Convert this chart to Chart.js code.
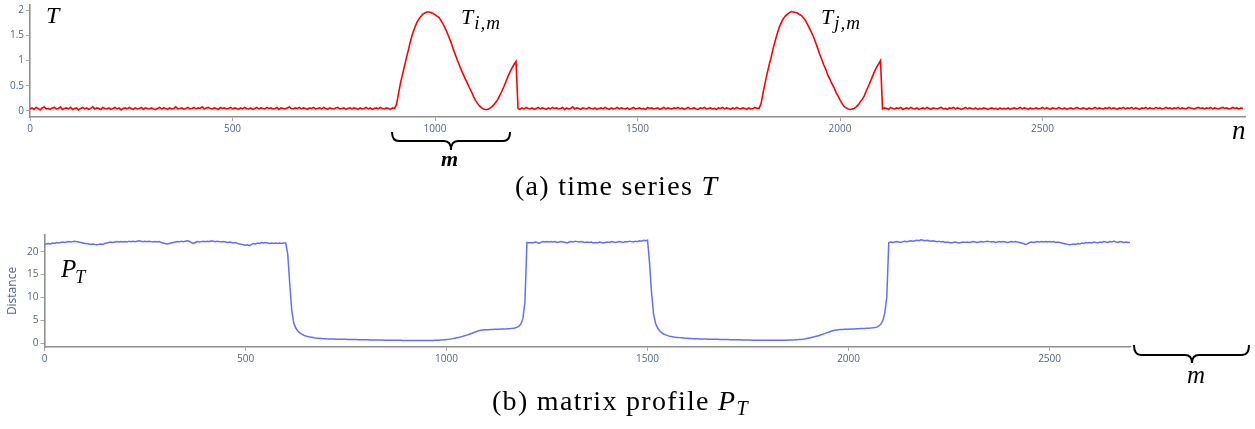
<!DOCTYPE html>
<html><head><meta charset="utf-8">
<script src="https://cdn.jsdelivr.net/npm/chart.js@4.4.1/dist/chart.umd.min.js"></script>
<style>
html,body{margin:0;padding:0;background:#fff;}
#wrap{position:relative;width:1255px;height:429px;overflow:hidden;background:#fff;}
canvas{position:absolute;left:0;}
.lbl{position:absolute;font-family:'Liberation Serif',serif;font-style:italic;color:#000;line-height:1;white-space:nowrap;z-index:3;}
.cap{position:absolute;font-family:'Liberation Serif',serif;font-size:28px;letter-spacing:1.3px;color:#000;line-height:1;white-space:nowrap;z-index:3;}
svg{position:absolute;left:0;top:0;z-index:2;}
</style></head>
<body><div id="wrap">
<canvas id="c1" width="1255" height="165" style="top:-15px"></canvas>
<canvas id="c2" width="1255" height="170" style="top:210px"></canvas>
<svg width="1255" height="429">
  <path d="M392,132 Q392,141 399,141 L444,141 Q451,141 451,150 Q451,141 458,141 L503,141 Q510,141 510,132" fill="none" stroke="#000" stroke-width="2"/>
  <path d="M1134,345 Q1134,355 1141,355 L1185,355 Q1192,355 1192,363 Q1192,355 1199,355 L1242,355 Q1249,355 1249,345" fill="none" stroke="#000" stroke-width="2"/>
</svg>
<div class="lbl" style="left:46px;top:3px;font-size:24px">T</div>
<div class="lbl" style="left:461px;top:6px;font-size:22px">T<span style="font-size:19px;position:relative;top:5px;left:1px;letter-spacing:1px">i,m</span></div>
<div class="lbl" style="left:821px;top:6px;font-size:22px">T<span style="font-size:19px;position:relative;top:5px;left:1px;letter-spacing:1px">j,m</span></div>
<div class="lbl" style="left:1232px;top:117px;font-size:27px">n</div>
<div class="lbl" style="left:441px;top:148px;font-size:22px;font-weight:bold">m</div>
<div class="lbl" style="left:61px;top:256px;font-size:25px">P<span style="font-size:18px;position:relative;top:6px;left:-1px">T</span></div>
<div class="lbl" style="left:1187px;top:362px;font-size:25px">m</div>
<div class="cap" style="left:515px;top:172px">(a) time series <i>T</i></div>
<div class="cap" style="left:492px;top:387px">(b) matrix profile <i>P</i><i style="font-size:20px;position:relative;top:5px">T</i></div>
</div>
<script>
// values, one every SAMPLE_STEP samples
const SAMPLE_STEP = 5;

// time series T : baseline 0..895
const tBase1 = [
.04,.06,.03,.07,.05,.02,.06,.08,.04,.05,.03,.06,.07,.04,.05,.08,.03,.05,.06,.04,
.07,.03,.05,.06,.02,.05,.07,.04,.06,.03,.05,.08,.04,.06,.05,.03,.07,.05,.04,.06,
.03,.05,.07,.04,.06,.02,.05,.06,.04,.07,.05,.03,.06,.04,.05,.07,.03,.06,.05,.04,
.06,.04,.03,.05,.07,.04,.06,.05,.03,.06,.04,.05,.08,.04,.05,.06,.03,.05,.07,.04,
.05,.07,.04,.06,.05,.08,.04,.06,.07,.05,.04,.06,.05,.03,.07,.05,.06,.04,.05,.07,
.04,.06,.05,.03,.06,.04,.07,.05,.04,.06,.03,.05,.07,.04,.06,.05,.04,.07,.05,.06,
.04,.05,.07,.03,.06,.05,.04,.06,.08,.05,.04,.06,.05,.07,.04,.06,.05,.03,.06,.05,
.07,.04,.05,.06,.04,.07,.05,.03,.06,.05,.04,.06,.07,.04,.05,.06,.03,.05,.06,.04,
.06,.05,.03,.06,.04,.05,.07,.04,.06,.03,.05,.06,.04,.07,.05,.04,.06,.05,.03,.06];
// motif T_{i,m} : 900..1200
const tMotif1 = [
.05,.13,.35,.56,.73,.90,1.07,1.23,1.40,1.54,1.65,1.75,1.82,1.87,1.92,1.94,1.96,1.96,1.95,1.93,1.91,
1.88,1.85,1.79,1.72,1.64,1.55,1.45,1.35,1.23,1.12,1.01,.91,.81,.72,.63,.55,.46,.38,.29,.21,
.15,.10,.06,.04,.03,.03,.05,.08,.12,.17,.23,.31,.39,.48,.58,.68,.77,.85,.92,.98];
// baseline 1205..1795
const tBase2 = [
.05,.03,.06,.04,.07,.05,.04,.06,.03,.05,.07,.04,.06,.05,.03,.06,.04,.07,.05,.06,
.04,.05,.07,.03,.06,.04,.05,.08,.04,.06,.05,.03,.06,.05,.04,.07,.05,.04,.06,.03,
.05,.06,.04,.07,.05,.03,.06,.04,.05,.07,.04,.06,.05,.04,.06,.03,.05,.07,.04,.05,
.06,.04,.05,.03,.07,.05,.06,.04,.05,.06,.03,.05,.07,.04,.06,.05,.04,.06,.05,.07,
.04,.06,.03,.05,.07,.04,.05,.06,.04,.03,.06,.05,.07,.04,.05,.06,.04,.05,.03,.06,
.05,.07,.04,.06,.05,.03,.06,.04,.07,.05,.04,.06,.05,.03,.06,.04,.05,.07,.05];
// motif T_{j,m} : 1800..2100
const tMotif2 = [
.05,.14,.36,.55,.74,.91,1.06,1.24,1.39,1.53,1.66,1.75,1.83,1.88,1.92,1.95,1.97,1.96,1.95,1.94,1.91,
1.89,1.84,1.79,1.71,1.63,1.55,1.46,1.35,1.24,1.12,1.02,.91,.82,.71,.63,.54,.47,.37,.30,.22,
.15,.09,.06,.04,.03,.04,.05,.08,.12,.18,.23,.30,.40,.49,.58,.68,.78,.86,.93,1.00];
// baseline 2105..2995
const tBase3 = [
.04,.06,.05,.03,.07,.05,.04,.06,.05,.07,.03,.05,.06,.04,.07,.05,.04,.06,.03,.05,
.06,.04,.07,.05,.03,.06,.05,.04,.06,.07,.04,.05,.03,.06,.05,.07,.04,.06,.05,.03,
.05,.07,.04,.06,.05,.04,.06,.03,.05,.04,.06,.05,.03,.05,.06,.04,.05,.03,.06,.04,
.05,.04,.06,.03,.05,.06,.04,.05,.07,.04,.06,.05,.03,.06,.04,.05,.06,.04,.05,.07,
.04,.06,.05,.03,.06,.05,.04,.07,.05,.04,.06,.03,.05,.06,.04,.05,.07,.05,.04,.06,
.05,.03,.06,.04,.05,.07,.04,.06,.05,.04,.06,.05,.07,.04,.06,.05,.03,.06,.05,.07,
.04,.06,.05,.07,.04,.06,.05,.03,.06,.05,.07,.04,.06,.05,.04,.07,.05,.06,.04,.05,
.07,.05,.06,.04,.06,.05,.07,.04,.06,.05,.04,.07,.06,.05,.04,.06,.07,.05,.06,.04,
.06,.05,.07,.04,.06,.05,.04,.06,.07,.05,.06,.04,.05,.07,.05,.06,.04,.06,.05];
const tSegmentStarts = [0, 900, 1205, 1800, 2105];

// matrix profile P_T
const pA = [ // 0..600
21.6,21.7,21.8,21.7,21.9,21.8,22.0,21.9,22.0,22.1,22.0,22.1,22.2,22.1,22.2,22.3,22.2,22.1,22.0,21.9,
21.8,21.8,21.7,21.6,21.7,21.6,21.5,21.6,21.7,21.6,21.8,21.9,22.0,22.1,22.0,22.1,22.2,22.1,22.2,22.1,
22.2,22.1,22.3,22.2,22.3,22.2,22.3,22.4,22.3,22.2,22.3,22.2,22.3,22.2,22.1,22.2,22.1,22.2,22.0,21.9,
21.8,21.7,21.8,21.9,22.0,22.1,22.2,22.1,22.3,22.2,22.3,22.4,22.3,22.0,21.8,22.0,22.2,22.1,22.2,22.3,
22.2,22.3,22.2,22.4,22.3,22.2,22.3,22.2,22.1,22.2,22.1,22.0,22.1,22.0,21.9,22.0,21.8,21.7,21.6,21.5,
21.4,21.5,21.3,21.6,21.8,21.7,21.9,21.8,22.0,21.9,22.0,21.9,21.8,21.9,21.8,21.9,21.8,21.9,21.8,21.9,
21.9];
const pB = [ // 605..1195
19.5,13.0,7.2,4.4,3.3,2.65,2.25,1.95,1.72,1.56,1.44,1.34,1.26,1.19,1.13,1.08,1.03,.99,.96,.93,
.91,.90,.89,.88,.87,.86,.85,.84,.83,.82,.81,.80,.79,.78,.77,.76,.75,.74,.73,.72,
.71,.70,.70,.69,.68,.67,.67,.66,.65,.64,.64,.63,.62,.62,.61,.60,.60,.59,.59,.58,
.57,.57,.56,.56,.56,.55,.55,.55,.56,.56,.57,.58,.59,.61,.63,.65,.68,.71,.75,.80,
.85,.91,.98,1.06,1.15,1.25,1.36,1.48,1.61,1.75,1.90,2.06,2.22,2.38,2.55,2.70,2.80,2.86,2.90,2.93,
2.95,2.97,2.99,3.01,3.03,3.05,3.07,3.09,3.11,3.13,3.16,3.20,3.25,3.32,3.45,3.70,4.20,5.40,9.0];
const pC = [ // 1200..1500
22.0,21.9,22.0,21.9,22.1,22.0,21.8,22.1,22.2,22.1,22.2,22.1,22.2,22.1,22.2,22.0,22.1,22.2,22.1,22.0,
21.9,22.1,22.2,22.1,22.3,22.2,22.1,22.2,22.1,22.0,22.1,22.0,22.1,21.9,22.0,21.9,22.1,22.0,21.9,22.0,
22.1,22.0,22.2,22.1,22.0,22.1,22.2,22.1,22.0,22.2,22.1,22.3,22.2,22.1,22.3,22.2,22.4,22.3,22.5,22.4,
22.5];
const pD = [ // 1505..2095
17.5,11.0,6.3,4.3,3.3,2.7,2.3,2.0,1.8,1.64,1.52,1.43,1.36,1.30,1.25,1.20,1.16,1.12,1.09,1.06,
1.03,1.00,.98,.96,.94,.92,.90,.89,.88,.87,.86,.85,.84,.83,.82,.81,.80,.79,.78,.77,
.76,.75,.74,.73,.72,.71,.70,.69,.68,.67,.66,.65,.65,.64,.64,.63,.63,.63,.62,.62,
.62,.62,.62,.62,.63,.63,.64,.64,.65,.66,.67,.69,.71,.74,.77,.81,.86,.92,.99,1.07,
1.16,1.26,1.37,1.49,1.62,1.76,1.91,2.07,2.23,2.39,2.55,2.69,2.80,2.87,2.92,2.96,2.99,3.01,3.03,3.05,
3.07,3.09,3.11,3.13,3.15,3.17,3.19,3.21,3.24,3.27,3.30,3.34,3.40,3.50,3.70,4.10,4.90,6.5,10.0];
const pE = [ // 2100..2700
22.0,22.1,22.0,22.1,22.2,22.1,22.0,22.2,22.3,22.2,22.3,22.4,22.3,22.4,22.5,22.4,22.6,22.5,22.4,22.5,
22.4,22.3,22.4,22.3,22.2,22.3,22.1,22.2,22.0,22.1,22.0,21.9,22.0,22.1,22.0,21.9,22.0,22.1,22.0,22.1,
22.0,22.1,22.2,22.1,22.0,22.1,22.2,22.1,22.2,22.3,22.2,22.1,22.2,22.0,22.1,22.2,22.1,22.2,22.1,22.0,
22.1,22.2,22.1,22.2,22.1,22.0,21.9,21.8,21.6,21.7,22.0,22.1,22.0,22.1,22.2,22.1,22.2,22.1,22.2,22.1,
22.2,22.1,22.2,22.0,22.1,22.0,21.9,21.8,21.7,21.6,21.5,21.6,21.7,21.6,21.8,21.7,21.9,21.8,22.0,21.9,
22.0,21.9,22.1,22.0,21.9,22.1,22.0,22.2,22.1,22.0,22.2,22.1,22.3,22.1,22.0,22.2,22.1,22.0,22.1,22.0,
22.0];
const pSegmentStarts = [0, 605, 1200, 1505, 2100];

const tXTicks = [0, 500, 1000, 1500, 2000, 2500];
const tYTicks = [0, 0.5, 1, 1.5, 2];
const pXTicks = [0, 500, 1000, 1500, 2000, 2500];
const pYTicks = [0, 5, 10, 15, 20];

function build(starts, segs) {
  const pts = [];
  segs.forEach((vals, k) => vals.forEach((v, i) => pts.push({x: starts[k] + i * SAMPLE_STEP, y: v})));
  return pts;
}

const TICK_COLOR = '#506784';
const AXIS_COLOR = '#8f8f8f';
const tickFont = {family: "'Open Sans', 'Liberation Sans', sans-serif", size: 10};

function axis(min, max, ticks, fit, extra) {
  return Object.assign({
    type: 'linear', min: min, max: max,
    afterBuildTicks: s => { s.ticks = ticks.map(v => ({value: v})); },
    afterFit: fit,
    grid: {display: true, drawOnChartArea: false, drawTicks: true, tickLength: 4, color: '#a8a8a8', lineWidth: 1},
    border: {display: true, color: AXIS_COLOR, width: 1.6},
    ticks: {color: TICK_COLOR, font: tickFont, padding: 2, autoSkip: false, maxRotation: 0, callback: v => String(v)}
  }, extra || {});
}

new Chart(document.getElementById('c1'), {
  type: 'line',
  data: {datasets: [{
    data: build(tSegmentStarts, [tBase1, tMotif1, tBase2, tMotif2, tBase3]),
    borderColor: '#ff0000', borderWidth: 1.6, pointRadius: 0, tension: 0, fill: false
  }]},
  options: {
    responsive: false, animation: false, events: [], parsing: false,
    layout: {padding: {left: 0, right: 10, top: 20, bottom: 0}},
    plugins: {legend: {display: false}, tooltip: {enabled: false}, title: {display: false}},
    scales: {
      x: axis(0, 3000, tXTicks, s => { s.height = 33; }),
      y: axis(-0.12, 2.1, tYTicks, s => { s.width = 30; })
    }
  }
});

new Chart(document.getElementById('c2'), {
  type: 'line',
  data: {datasets: [{
    data: build(pSegmentStarts, [pA, pB, pC, pD, pE]),
    borderColor: '#636efa', borderWidth: 1.5, pointRadius: 0, tension: 0, fill: false
  }]},
  options: {
    responsive: false, animation: false, events: [], parsing: false,
    layout: {padding: {left: 0, right: 125, top: 25, bottom: 0}},
    plugins: {legend: {display: false}, tooltip: {enabled: false}, title: {display: false}},
    scales: {
      x: axis(0, 2700, pXTicks, s => { s.height = 33; }),
      y: axis(-0.85, 23.65, pYTicks, s => { s.width = 44.5; }, {
        title: {display: true, text: 'Distance', color: TICK_COLOR,
                font: {family: "'Open Sans', 'Liberation Sans', sans-serif", size: 12}, padding: {top: 5, bottom: 0}}
      })
    }
  }
});
</script>
</body></html>
